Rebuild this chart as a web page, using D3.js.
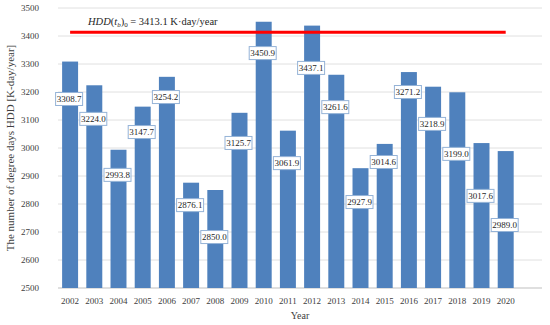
<!DOCTYPE html>
<html>
<head>
<meta charset="utf-8">
<script src="https://cdn.jsdelivr.net/npm/d3@7"></script>
<style>
  body { margin: 0; background: #fff; }
</style>
</head>
<body>
<div id="container"></div>
<script>

// Data
const years = ["2002","2003","2004","2005","2006","2007","2008","2009","2010","2011",
               "2012","2013","2014","2015","2016","2017","2018","2019","2020"];
const hdd = [3308.7, 3224.0, 2993.8, 3147.7, 3254.2, 2876.1, 2850.0, 3125.7, 3450.9, 3061.9,
             3437.1, 3261.6, 2927.9, 3014.6, 3271.2, 3218.9, 3199.0, 3017.6, 2989.0];
// where each data label sits, in axis units
const labelAt = [3175, 3104, 2904, 3057, 3182, 2796, 2682, 3018, 3339, 2946,
                 3286, 3146, 2807, 2950, 3200, 3086, 2979, 2829, 2725];
const baseline = 3413.1;
const yTicks = [2500, 2600, 2700, 2800, 2900, 3000, 3100, 3200, 3300, 3400, 3500];

const width = 550;
const height = 325;
const marginTop = 8;
const marginRight = 8;
const marginBottom = 37;
const marginLeft = 58;

const serif = "'Liberation Serif', 'DejaVu Serif', serif";

// Excel leaves one empty slot at the right end of the category axis
const x = d3.scaleBand()
    .domain(years.concat([""]))
    .range([marginLeft, width - marginRight])
    .paddingInner(0.34)
    .paddingOuter(0.17);

const y = d3.scaleLinear()
    .domain([2500, 3500])
    .range([height - marginBottom, marginTop]);

const svg = d3.create("svg")
    .attr("width", width)
    .attr("height", height);

// gridlines
svg.append("g")
    .selectAll("line")
    .data(yTicks)
    .join("line")
    .attr("x1", marginLeft)
    .attr("x2", width - marginRight)
    .attr("y1", d => y(d))
    .attr("y2", d => y(d))
    .attr("stroke", d => d === 2500 ? "#bfbfbf" : "#e0e0e0")
    .attr("stroke-width", 1);

// y axis labels
svg.append("g")
    .attr("font-family", serif)
    .attr("font-size", 9)
    .attr("fill", "#404040")
    .selectAll("text")
    .data(yTicks)
    .join("text")
    .attr("x", marginLeft - 19)
    .attr("y", d => y(d))
    .attr("dy", "0.35em")
    .attr("text-anchor", "end")
    .text(d => d);

// bars
svg.append("g")
    .selectAll("rect")
    .data(hdd)
    .join("rect")
    .attr("x", (d, i) => x(years[i]))
    .attr("y", d => y(d))
    .attr("width", x.bandwidth())
    .attr("height", d => y(2500) - y(d))
    .attr("fill", "#4f81bd");

// red reference line from first to last bar centre
svg.append("line")
    .attr("x1", x(years[0]) + x.bandwidth() / 2)
    .attr("x2", x(years[years.length - 1]) + x.bandwidth() / 2)
    .attr("y1", y(baseline))
    .attr("y2", y(baseline))
    .attr("stroke", "#ff0000")
    .attr("stroke-width", 3);

// formula text above the red line
const formula = svg.append("text")
    .attr("x", 88)
    .attr("y", 25)
    .attr("font-family", serif)
    .attr("font-size", 10.5)
    .attr("fill", "#262626");
formula.append("tspan").attr("font-style", "italic").text("HDD");
formula.append("tspan").text("(");
formula.append("tspan").attr("font-style", "italic").text("t");
formula.append("tspan").attr("font-style", "italic").attr("font-size", 7).attr("dy", 2).text("b");
formula.append("tspan").attr("dy", -2).text(")");
formula.append("tspan").attr("font-size", 7).attr("dy", 2).text("0");
formula.append("tspan").attr("dy", -2).text(" =  3413.1 K·day/year");

// data labels in boxes
const labels = svg.append("g")
    .attr("font-family", serif)
    .attr("font-size", 9)
    .selectAll("g")
    .data(hdd)
    .join("g")
    .attr("transform", (d, i) => `translate(${x(years[i]) + x.bandwidth() / 2 - 1},${y(labelAt[i])})`);

labels.append("rect")
    .attr("x", -13.5)
    .attr("y", -6.5)
    .attr("width", 27)
    .attr("height", 13)
    .attr("fill", "#fff")
    .attr("stroke", "#95b3d7")
    .attr("stroke-width", 1);

labels.append("text")
    .attr("text-anchor", "middle")
    .attr("dy", "0.35em")
    .attr("fill", "#262626")
    .text(d => d.toFixed(1));

// x axis labels
svg.append("g")
    .attr("font-family", serif)
    .attr("font-size", 9)
    .attr("fill", "#404040")
    .selectAll("text")
    .data(years)
    .join("text")
    .attr("x", d => x(d) + x.bandwidth() / 2)
    .attr("y", height - marginBottom + 16)
    .attr("text-anchor", "middle")
    .text(d => d);

// axis titles
svg.append("text")
    .attr("x", (marginLeft + width - marginRight) / 2)
    .attr("y", height - 6)
    .attr("text-anchor", "middle")
    .attr("font-family", serif)
    .attr("font-size", 10)
    .attr("fill", "#404040")
    .text("Year");

svg.append("text")
    .attr("transform", `translate(14,${(marginTop + height - marginBottom) / 2}) rotate(-90)`)
    .attr("text-anchor", "middle")
    .attr("font-family", serif)
    .attr("font-size", 11)
    .attr("fill", "#404040")
    .text("The number of degree days HDD [K-day/year]");

container.append(svg.node());
</script>
</body>
</html>
